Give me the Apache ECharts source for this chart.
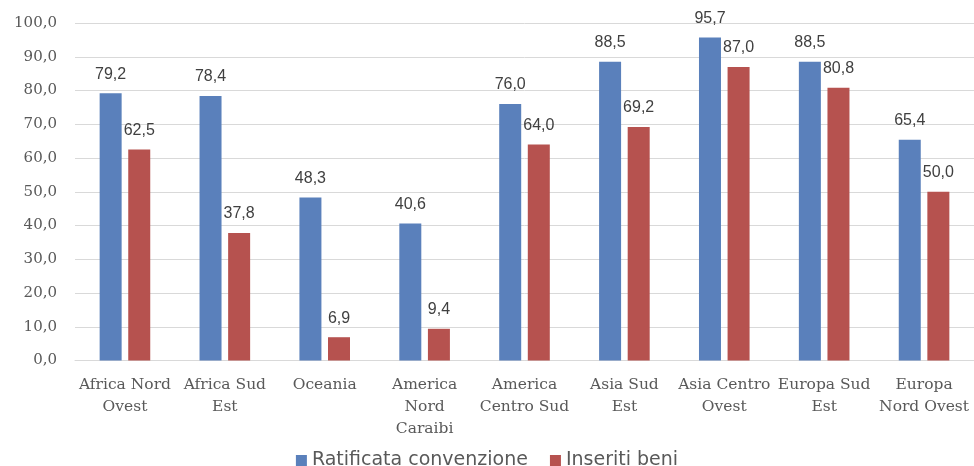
<!DOCTYPE html>
<html>
<head>
<meta charset="utf-8">
<script src="https://cdn.jsdelivr.net/npm/echarts@6/dist/echarts.min.js"></script>
<style>html,body{margin:0;padding:0;background:#fff}#c{width:974px;height:466px}</style>
</head>
<body>
<div id="c"></div>
<script>
var categories = ['Africa Nord\nOvest', 'Africa Sud\nEst', 'Oceania', 'America\nNord\nCaraibi', 'America\nCentro Sud', 'Asia Sud\nEst', 'Asia Centro\nOvest', 'Europa Sud\nEst', 'Europa\nNord Ovest'];
var ratificata = [79.2, 78.4, 48.3, 40.6, 76.0, 88.5, 95.7, 88.5, 65.4];
var inseriti = [62.5, 37.8, 6.9, 9.4, 64.0, 69.2, 87.0, 80.8, 50.0];
var seriesNames = ['Ratificata convenzione', 'Inseriti beni'];

function fmt(v){ return Number(v).toFixed(1).replace('.', ','); }
var serif = '"DejaVu Serif", serif';
var sans = '"Liberation Sans", sans-serif';
var chart = echarts.init(document.getElementById('c'));
var lbl = {show:true, position:'top', distance:11, color:'#404040', fontFamily:sans, fontSize:16,
  formatter:function(p){return fmt(p.value);}};
chart.setOption({
  animation:false,
  grid:{left:75, right:0, top:23, bottom:105.5, containLabel:false},
  legend:{top:446, left:'center', itemWidth:11, itemHeight:11, itemGap:22,
    icon:'rect',
    textStyle:{fontFamily:'"DejaVu Sans", sans-serif', fontSize:19, color:'#595959'},
    data:seriesNames},
  xAxis:{type:'category', data:categories,
    axisLine:{lineStyle:{color:'#d9d9d9', width:1}}, axisTick:{show:false},
    axisLabel:{interval:0, margin:13, color:'#595959', fontFamily:serif, fontSize:15.5, lineHeight:22}},
  yAxis:{type:'value', min:0, max:100, interval:10,
    axisLine:{show:false}, axisTick:{show:false},
    splitLine:{lineStyle:{color:'#d9d9d9', width:1}},
    axisLabel:{margin:18, color:'#595959', fontFamily:serif, fontSize:15, formatter:function(v){return fmt(v);}}},
  series:[
    {name:seriesNames[0], type:'bar', data:ratificata, barWidth:22, barGap:'30%',
      itemStyle:{color:'#5A80BB'}, label:lbl},
    {name:seriesNames[1], type:'bar', data:inseriti, barWidth:22,
      itemStyle:{color:'#B6524F'}, label:lbl}
  ]
});
</script>
</body>
</html>
